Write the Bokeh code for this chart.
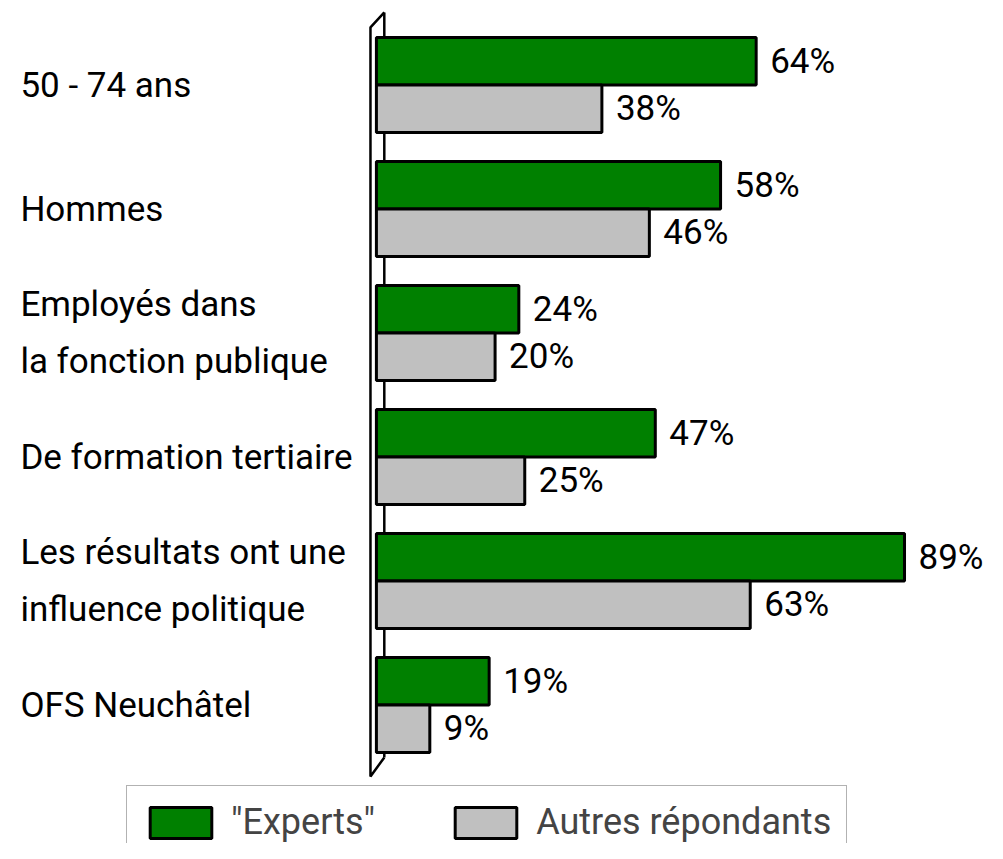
from bokeh.plotting import figure
from bokeh.models import ColumnDataSource, Range1d, Legend, LegendItem
from bokeh.core.properties import value
from bokeh.embed import file_html
from bokeh.resources import INLINE

categories = ["50 - 74 ans", "Hommes", "Employés dans\nla fonction publique",
              "De formation tertiaire", "Les résultats ont une\ninfluence politique",
              "OFS Neuchâtel"]
experts = [64, 58, 24, 47, 89, 19]
autres = [38, 46, 20, 25, 63, 9]
series_names = ['"Experts"', "Autres répondants"]
colors = ["#008000", "#C0C0C0"]

FONT = "Roboto"

W, H = 987, 843
p = figure(width=W, height=H, output_backend="svg", toolbar_location=None,
           x_range=Range1d(-382 / 6.03, 621 / 6.03),
           y_range=Range1d((843 - 84.5) / 124, -84.5 / 124),
           min_border=0, outline_line_color=None)
p.axis.visible = False
p.grid.visible = False
p.background_fill_color = None
p.border_fill_color = "white"

n = len(categories)
idx = list(range(n))
bar_h = 0.383
off = bar_h / 2

# 3D wall (axis)
depth_x = 1.33
outer_x = -1.0
top_in, top_out = -0.585, -0.464
bot_in, bot_out = (n - 1) + 0.423, (n - 1) + 0.577
p.line([depth_x, depth_x], [top_in, bot_in], line_color="black", line_width=2.5)
p.line([depth_x, outer_x, outer_x, depth_x], [top_in, top_out, bot_out, bot_in],
       line_color="black", line_width=2.5)

src_e = ColumnDataSource(dict(y=[i - off for i in idx], v=experts,
                              lab=[f"{v}%" for v in experts]))
src_a = ColumnDataSource(dict(y=[i + off for i in idx], v=autres,
                              lab=[f"{v}%" for v in autres]))

r_e = p.hbar(y="y", left=0, right="v", height=bar_h, source=src_e,
             fill_color=colors[0], line_color="black", line_width=3)
r_a = p.hbar(y="y", left=0, right="v", height=bar_h, source=src_a,
             fill_color=colors[1], line_color="black", line_width=3)

for src in (src_e, src_a):
    p.text(x="v", y="y", text="lab", source=src, x_offset=14,
           text_align="left", text_baseline="middle",
           text_font=value(FONT), text_font_size="35px", text_color="black")

src_c = ColumnDataSource(dict(y=idx, lab=categories, x=[-60.0] * n))
p.text(x="x", y="y", text="lab", source=src_c, text_align="left",
       text_baseline="middle", text_font=value(FONT), text_font_size="35px",
       text_line_height=1.4, text_color="black")

legend = Legend(items=[LegendItem(label=series_names[0], renderers=[r_e]),
                       LegendItem(label=series_names[1], renderers=[r_a])],
                orientation="horizontal", location=(126, -16),
                glyph_width=77, glyph_height=39, label_standoff=12, spacing=72,
                padding=15, margin=0, label_text_font=FONT,
                label_text_font_size="36px", label_height=39,
                border_line_color="#666666", border_line_width=1.5,
                background_fill_color="white", background_fill_alpha=1)
p.add_layout(legend)

open("out.html", "w").write(file_html(p, INLINE))
